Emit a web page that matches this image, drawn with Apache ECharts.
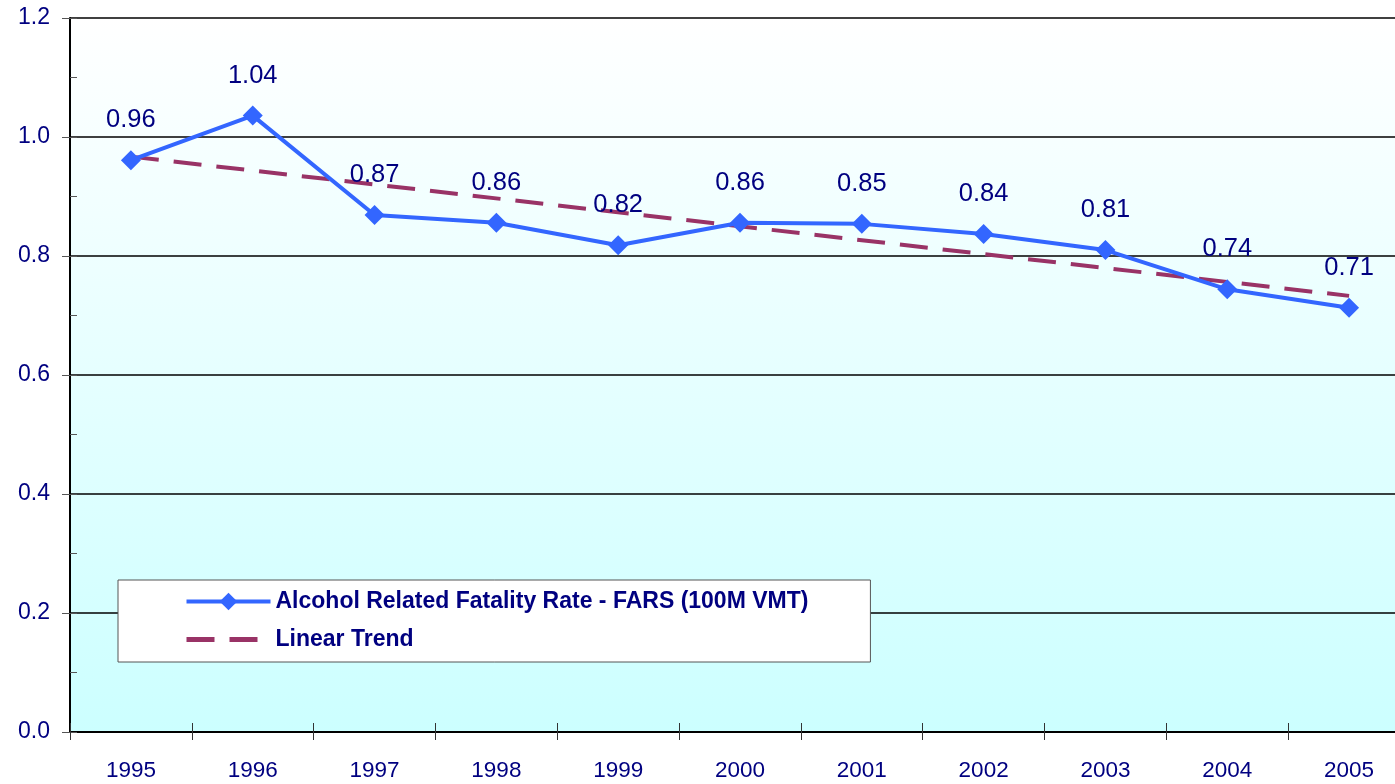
<!DOCTYPE html>
<html>
<head>
<meta charset="utf-8">
<script src="https://cdn.jsdelivr.net/npm/echarts@6/dist/echarts.min.js"></script>
<style>
  html, body { margin: 0; padding: 0; background: #fff; overflow: hidden; }
  /* 图表右边被裁掉一截，所以画布比窗口宽 */
  #main { width: 1410px; height: 784px; }
</style>
</head>
<body>
<div id="main"></div>
<script>
// 数据
var years = ["1995", "1996", "1997", "1998", "1999", "2000", "2001", "2002", "2003", "2004", "2005"];
var fatalityRate = [0.961, 1.036, 0.869, 0.856, 0.818, 0.856, 0.854, 0.837, 0.810, 0.744, 0.713];
// 趋势线只读两端，中间留空连接
var trendRate = [0.967, null, null, null, null, null, null, null, null, null, 0.733];
var yTicks = [0, 0.2, 0.4, 0.6, 0.8, 1.0, 1.2];

var navy = "#000080";
var font = "'Liberation Sans', Arial, sans-serif";
var trendDash = [28, 15];

var myChart = echarts.init(document.getElementById("main"));

var option = {
  animation: false,
  textStyle: { fontFamily: font },
  grid: {
    left: 70,
    right: 0,
    top: 18,
    bottom: 52,
    show: true,
    borderWidth: 0,
    backgroundColor: new echarts.graphic.LinearGradient(0, 0, 0, 1, [
      { offset: 0, color: "#ffffff" },
      { offset: 1, color: "#ccffff" }
    ])
  },
  legend: {
    left: 118,
    top: 580,
    orient: "vertical",
    backgroundColor: "#ffffff",
    borderColor: "#555555",
    borderWidth: 1,
    padding: [10, 62, 11, 66],
    itemWidth: 84,
    itemHeight: 22,
    itemGap: 15,
    textStyle: {
      color: navy,
      fontSize: 23,
      fontWeight: "bold",
      fontFamily: font
    },
    data: [
      {
        name: "Alcohol Related Fatality Rate - FARS (100M VMT)",
        lineStyle: { width: 4, color: "#3366ff" }
      },
      {
        name: "Linear Trend",
        itemStyle: { opacity: 0 },
        lineStyle: { width: 5, color: "#993366", type: trendDash }
      }
    ]
  },
  xAxis: [
    {
      type: "category",
      data: years,
      boundaryGap: true,
      axisLine: { lineStyle: { color: "#000", width: 2 } },
      axisTick: { show: true, length: 8, lineStyle: { color: "#333", width: 1 } },
      axisLabel: { color: navy, fontSize: 22.5, margin: 27, fontFamily: font },
      splitLine: { show: false }
    },
    {
      // 刻度向内的一半
      type: "category",
      data: years,
      position: "bottom",
      boundaryGap: true,
      axisLine: { show: false },
      axisTick: { show: true, inside: true, length: 9, lineStyle: { color: "#333", width: 1 } },
      axisLabel: { show: false },
      splitLine: { show: false }
    }
  ],
  yAxis: [
    {
      type: "value",
      min: yTicks[0],
      max: yTicks[yTicks.length - 1],
      interval: 0.2,
      axisLine: { show: true, lineStyle: { color: "#000", width: 2 } },
      axisTick: { show: true, length: 8, lineStyle: { color: "#555", width: 1 } },
      axisLabel: {
        color: navy,
        fontSize: 23,
        margin: 20,
        fontFamily: font,
        formatter: function (v) { return v.toFixed(1); }
      },
      splitLine: { show: true, lineStyle: { color: "#000", width: 1.5 } }
    },
    {
      // 次刻度，向内
      type: "value",
      position: "left",
      min: 0,
      max: 1.2,
      interval: 0.1,
      axisLine: { show: false },
      axisTick: { show: true, inside: true, length: 7, lineStyle: { color: "#555", width: 1 } },
      axisLabel: { show: false },
      splitLine: { show: false }
    }
  ],
  series: [
    {
      name: "Linear Trend",
      type: "line",
      data: trendRate,
      connectNulls: true,
      symbol: "none",
      lineStyle: { color: "#993366", width: 4, type: trendDash },
      itemStyle: { color: "#993366" },
      z: 2
    },
    {
      name: "Alcohol Related Fatality Rate - FARS (100M VMT)",
      type: "line",
      data: fatalityRate,
      symbol: "diamond",
      symbolSize: 20,
      lineStyle: { color: "#3366ff", width: 4 },
      itemStyle: { color: "#3366ff" },
      label: {
        show: true,
        position: "top",
        distance: 17,
        color: navy,
        fontSize: 25.5,
        fontFamily: font,
        formatter: function (p) { return p.value.toFixed(2); }
      },
      z: 3
    }
  ]
};

myChart.setOption(option);
</script>
</body>
</html>
